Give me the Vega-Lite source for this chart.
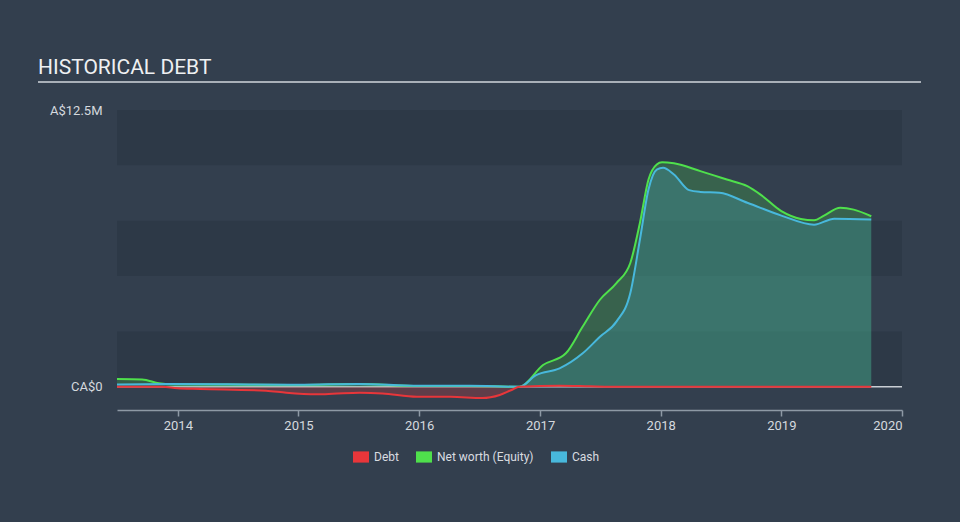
{
  "$schema": "https://vega.github.io/schema/vega-lite/v6.json",
  "autosize": {"type": "none"},
  "padding": {"left": 117, "top": 110, "right": 58, "bottom": 112},
  "width": 785,
  "height": 300,
  "background": "#333f4e",
  "title": {"text": "HISTORICAL DEBT", "anchor": "start", "frame": "group", "fontSize": 21, "fontWeight": "normal", "font": "Roboto", "color": "#eef0f2", "dx": -79, "dy": 40, "offset": 26, "baseline": "alphabetic"},
  "datasets": {
    "bands": [
      {"lo": 0, "hi": 2500000},
      {"lo": 5000000, "hi": 7500000},
      {"lo": 10000000, "hi": 12500000}
    ],
    "series": [
      {"date": "2013-07-01", "series": "Net worth (Equity)", "value": 350000},
      {"date": "2013-09-15", "series": "Net worth (Equity)", "value": 330000},
      {"date": "2013-11-05", "series": "Net worth (Equity)", "value": 160000},
      {"date": "2013-12-10", "series": "Net worth (Equity)", "value": 110000},
      {"date": "2014-06-01", "series": "Net worth (Equity)", "value": 100000},
      {"date": "2015-01-01", "series": "Net worth (Equity)", "value": 80000},
      {"date": "2015-07-01", "series": "Net worth (Equity)", "value": 120000},
      {"date": "2016-01-01", "series": "Net worth (Equity)", "value": 35000},
      {"date": "2016-06-01", "series": "Net worth (Equity)", "value": 35000},
      {"date": "2016-10-31", "series": "Net worth (Equity)", "value": 0},
      {"date": "2017-01-10", "series": "Net worth (Equity)", "value": 980000},
      {"date": "2017-03-20", "series": "Net worth (Equity)", "value": 1510000},
      {"date": "2017-05-10", "series": "Net worth (Equity)", "value": 2720000},
      {"date": "2017-07-01", "series": "Net worth (Equity)", "value": 3930000},
      {"date": "2017-08-20", "series": "Net worth (Equity)", "value": 4680000},
      {"date": "2017-10-01", "series": "Net worth (Equity)", "value": 5590000},
      {"date": "2017-10-30", "series": "Net worth (Equity)", "value": 7400000},
      {"date": "2017-11-25", "series": "Net worth (Equity)", "value": 9360000},
      {"date": "2017-12-20", "series": "Net worth (Equity)", "value": 10040000},
      {"date": "2018-01-05", "series": "Net worth (Equity)", "value": 10140000},
      {"date": "2018-02-10", "series": "Net worth (Equity)", "value": 10090000},
      {"date": "2018-05-01", "series": "Net worth (Equity)", "value": 9740000},
      {"date": "2018-07-20", "series": "Net worth (Equity)", "value": 9360000},
      {"date": "2018-09-20", "series": "Net worth (Equity)", "value": 9060000},
      {"date": "2018-10-30", "series": "Net worth (Equity)", "value": 8680000},
      {"date": "2019-01-01", "series": "Net worth (Equity)", "value": 7930000},
      {"date": "2019-03-01", "series": "Net worth (Equity)", "value": 7580000},
      {"date": "2019-04-10", "series": "Net worth (Equity)", "value": 7520000},
      {"date": "2019-05-10", "series": "Net worth (Equity)", "value": 7730000},
      {"date": "2019-06-28", "series": "Net worth (Equity)", "value": 8080000},
      {"date": "2019-08-08", "series": "Net worth (Equity)", "value": 8000000},
      {"date": "2019-09-30", "series": "Net worth (Equity)", "value": 7700000},
      {"date": "2013-07-01", "series": "Cash", "value": 100000},
      {"date": "2013-12-01", "series": "Cash", "value": 120000},
      {"date": "2014-06-01", "series": "Cash", "value": 110000},
      {"date": "2015-01-01", "series": "Cash", "value": 90000},
      {"date": "2015-07-01", "series": "Cash", "value": 130000},
      {"date": "2016-01-01", "series": "Cash", "value": 40000},
      {"date": "2016-06-01", "series": "Cash", "value": 40000},
      {"date": "2016-10-31", "series": "Cash", "value": 0},
      {"date": "2016-12-20", "series": "Cash", "value": 530000},
      {"date": "2017-03-01", "series": "Cash", "value": 830000},
      {"date": "2017-05-10", "series": "Cash", "value": 1510000},
      {"date": "2017-07-01", "series": "Cash", "value": 2260000},
      {"date": "2017-08-20", "series": "Cash", "value": 2940000},
      {"date": "2017-10-01", "series": "Cash", "value": 4230000},
      {"date": "2017-10-30", "series": "Cash", "value": 6640000},
      {"date": "2017-11-25", "series": "Cash", "value": 8910000},
      {"date": "2017-12-20", "series": "Cash", "value": 9810000},
      {"date": "2018-01-08", "series": "Cash", "value": 9890000},
      {"date": "2018-02-10", "series": "Cash", "value": 9590000},
      {"date": "2018-03-28", "series": "Cash", "value": 8880000},
      {"date": "2018-05-01", "series": "Cash", "value": 8800000},
      {"date": "2018-06-28", "series": "Cash", "value": 8760000},
      {"date": "2018-09-20", "series": "Cash", "value": 8310000},
      {"date": "2019-01-01", "series": "Cash", "value": 7730000},
      {"date": "2019-04-10", "series": "Cash", "value": 7320000},
      {"date": "2019-06-10", "series": "Cash", "value": 7590000},
      {"date": "2019-09-30", "series": "Cash", "value": 7550000},
      {"date": "2013-07-01", "series": "Debt", "value": 0},
      {"date": "2013-11-15", "series": "Debt", "value": 0},
      {"date": "2013-12-31", "series": "Debt", "value": -70000},
      {"date": "2014-03-10", "series": "Debt", "value": -100000},
      {"date": "2014-09-25", "series": "Debt", "value": -180000},
      {"date": "2014-11-25", "series": "Debt", "value": -270000},
      {"date": "2015-02-25", "series": "Debt", "value": -340000},
      {"date": "2015-04-15", "series": "Debt", "value": -320000},
      {"date": "2015-07-05", "series": "Debt", "value": -270000},
      {"date": "2015-09-12", "series": "Debt", "value": -300000},
      {"date": "2015-12-25", "series": "Debt", "value": -450000},
      {"date": "2016-04-05", "series": "Debt", "value": -450000},
      {"date": "2016-07-10", "series": "Debt", "value": -510000},
      {"date": "2016-09-01", "series": "Debt", "value": -370000},
      {"date": "2016-10-05", "series": "Debt", "value": -160000},
      {"date": "2016-10-31", "series": "Debt", "value": 0},
      {"date": "2017-03-01", "series": "Debt", "value": 50000},
      {"date": "2017-06-01", "series": "Debt", "value": 20000},
      {"date": "2017-08-01", "series": "Debt", "value": 0},
      {"date": "2019-09-30", "series": "Debt", "value": 0}
    ]
  },
  "layer": [
    {
      "data": {"name": "bands"},
      "mark": {"type": "rect", "color": "#2d3947"},
      "encoding": {
        "y": {"field": "lo", "type": "quantitative", "scale": {"domain": [-1050000, 12500000], "nice": false, "zero": false}},
        "y2": {"field": "hi"}
      }
    },
    {
      "data": {"values": [{"v": 0}]},
      "mark": {"type": "rule", "color": "#c9ced4", "strokeWidth": 1.5},
      "encoding": {"y": {"field": "v", "type": "quantitative"}}
    },
    {
      "data": {"name": "series"},
      "transform": [{"filter": "datum.series === 'Net worth (Equity)'"}],
      "mark": {"type": "area", "interpolate": "monotone", "fillOpacity": 0.22},
      "encoding": {
        "x": {"field": "date", "type": "temporal"},
        "y": {"field": "value", "type": "quantitative"},
        "y2": {"datum": 0},
        "color": {"field": "series", "type": "nominal"}
      }
    },
    {
      "data": {"name": "series"},
      "transform": [{"filter": "datum.series === 'Cash'"}],
      "mark": {"type": "area", "interpolate": "monotone", "fillOpacity": 0.22},
      "encoding": {
        "x": {"field": "date", "type": "temporal"},
        "y": {"field": "value", "type": "quantitative"},
        "y2": {"datum": 0},
        "color": {"field": "series", "type": "nominal"}
      }
    },
    {
      "data": {"name": "series"},
      "transform": [{"filter": "datum.series === 'Debt'"}],
      "mark": {"type": "area", "interpolate": "monotone", "fillOpacity": 0.25},
      "encoding": {
        "x": {"field": "date", "type": "temporal"},
        "y": {"field": "value", "type": "quantitative"},
        "y2": {"datum": 0},
        "color": {"field": "series", "type": "nominal"}
      }
    },
    {
      "data": {"name": "series"},
      "mark": {"type": "line", "interpolate": "monotone", "strokeWidth": 2},
      "encoding": {
        "x": {
          "field": "date", "type": "temporal", "title": null,
          "scale": {"type": "utc", "domain": [{"year": 2013, "month": 7, "date": 1, "utc": true}, {"year": 2020, "month": 1, "date": 1, "utc": true}]},
          "axis": {"format": "%Y", "tickCount": {"interval": "year", "step": 1}, "grid": false, "tickSize": 6, "tickColor": "#8e99a5", "domainColor": "#8e99a5", "domainWidth": 1.5, "tickWidth": 1.5, "labelFontSize": 13, "labelColor": "#d5d9de", "labelPadding": 3, "labelFont": "Roboto"}
        },
        "y": {
          "field": "value", "type": "quantitative", "title": null,
          "axis": {"values": [0, 12500000], "labelExpr": "datum.value == 0 ? 'CA$0' : 'A$12.5M'", "grid": false, "ticks": false, "domain": false, "labelPadding": 15, "labelFontSize": 13, "labelColor": "#d5d9de", "labelFont": "Roboto"}
        },
        "color": {
          "field": "series", "type": "nominal",
          "scale": {"domain": ["Debt", "Net worth (Equity)", "Cash"], "range": ["#e8363a", "#4fe04c", "#48b8dc"]},
          "legend": {
            "title": null, "orient": "none", "direction": "horizontal", "legendX": 236, "legendY": 339,
            "symbolType": "M-1,-0.7H1V0.7H-1Z", "symbolSize": 256, "symbolStrokeWidth": 0, "symbolOpacity": 1,
            "symbolFillColor": "#888888",
            "labelFontSize": 12, "labelColor": "#d9dce0", "labelFont": "Roboto", "columnPadding": 17, "labelOffset": 5
          }
        }
      }
    },
    {
      "data": {"values": [{}]},
      "mark": {"type": "rule", "color": "#a9b0b8", "strokeWidth": 2},
      "encoding": {"x": {"value": -79}, "x2": {"value": 804}, "y": {"value": -28}}
    }
  ],
  "config": {"view": {"stroke": null}, "font": "Roboto", "legend": {"symbolOpacity": 1}}
}
